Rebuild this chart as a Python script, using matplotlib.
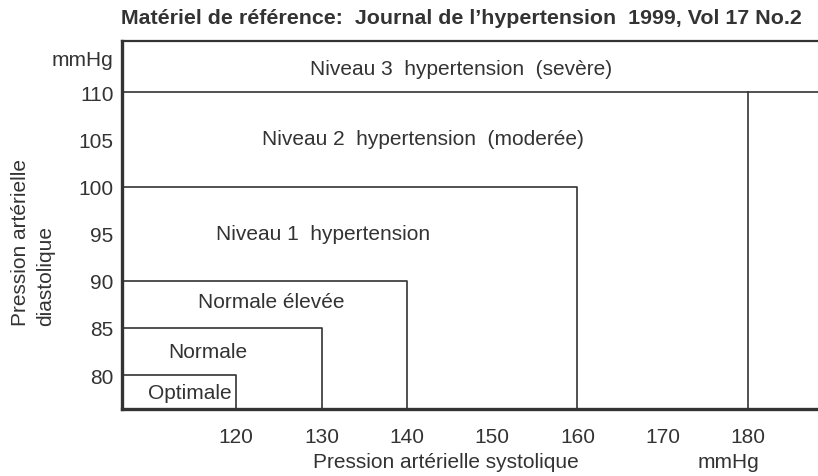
import matplotlib
matplotlib.use('Agg')
import matplotlib.pyplot as plt

plt.rcParams['font.family'] = ['Liberation Sans', 'DejaVu Sans']

# category boundaries (systolic / diastolic, mmHg)
systolic = [120, 130, 140, 160, 180]
diastolic = [80, 85, 90, 100, 110]
labels = ['Optimale', 'Normale', 'Normale élevée', 'Niveau 1  hypertension',
          'Niveau 2  hypertension  (moderée)', 'Niveau 3  hypertension  (sevère)']
label_x = [114.5, 116.7, 124.1, 130.2, 141.9, 146.3]
label_y = [78.2, 82.5, 87.8, 95.0, 105.15, 112.5]

xticks = [120, 130, 140, 150, 160, 170, 180]
yticks = [80, 85, 90, 95, 100, 105, 110]

xmin, xmax = 106.6, 188.2
ymin, ymax = 76.4, 115.45

col = '#333333'
fs = 15

fig = plt.figure(figsize=(8.18, 4.77), dpi=100)
ax = fig.add_axes([122/818, 1 - 410/477, 1 - 122/818, (410 - 42)/477])

for i in range(len(systolic)):
    s, d = systolic[i], diastolic[i]
    if i == len(systolic) - 1:
        ax.plot([xmin, xmax], [d, d], color=col, lw=1.2)
        ax.plot([s, s], [d, ymin], color=col, lw=1.2)
    else:
        ax.plot([xmin, s, s], [d, d, ymin], color=col, lw=1.2)

for t, x, y in zip(labels, label_x, label_y):
    ax.text(x, y, t, ha='center', va='center', fontsize=fs, color=col)

ax.set_xlim(xmin, xmax)
ax.set_ylim(ymin, ymax)

ax.set_xticks(xticks)
ax.set_yticks(yticks + [113.7])
ax.set_yticklabels([str(v) for v in yticks] + ['mmHg'])
ax.tick_params(axis='both', length=0, labelsize=fs, colors=col)
ax.tick_params(axis='x', pad=13)
ax.tick_params(axis='y', pad=6)

ax.spines['right'].set_visible(False)
ax.spines['left'].set_linewidth(2.4)
ax.spines['bottom'].set_linewidth(2.4)
ax.spines['top'].set_linewidth(1.6)
for sp in ax.spines.values():
    sp.set_color(col)

fig.text(446/818, 1 - 463/477, 'Pression artérielle systolique', ha='center', va='center',
         fontsize=fs, color=col)
fig.text(728/818, 1 - 463/477, 'mmHg', ha='center', va='center', fontsize=fs, color=col)
fig.text(33/818, 1 - 243/477, 'Pression artérielle\ndiastolique', ha='center', va='center',
         rotation=90, multialignment='left', fontsize=fs, color=col, linespacing=1.4)
fig.text(461/818, 1 - 18/477, 'Matériel de référence:  Journal de l’hypertension  1999, Vol 17 No.2',
         ha='center', va='center', fontsize=15.4, fontweight='bold', color=col)

fig.savefig('out.png', dpi=100)
